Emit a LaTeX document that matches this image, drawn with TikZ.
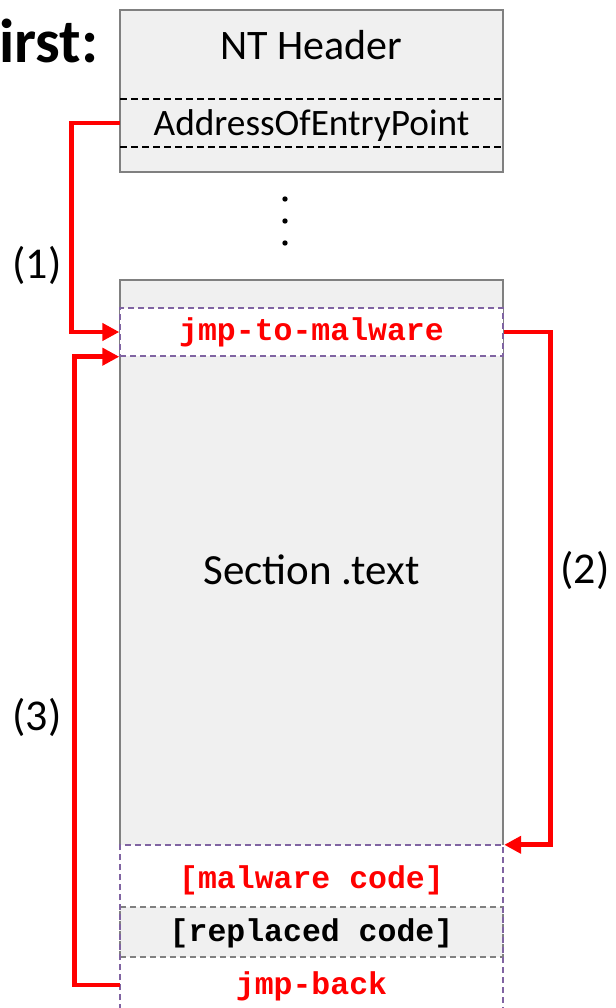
\documentclass[tikz,border=0pt]{standalone}
\usepackage{fontspec}
\setmainfont{Carlito}
\newfontfamily\codefont{Liberation Mono}
\usetikzlibrary{arrows.meta}
\definecolor{boxfill}{HTML}{F0F0F0}
\definecolor{boxline}{HTML}{808080}
\definecolor{purpleline}{HTML}{8064A2}
\definecolor{hotred}{HTML}{FF0000}
\tikzset{
  region/.style={rectangle, inner sep=0pt, minimum width=383pt, anchor=center},
  codetxt/.style={font=\codefont\bfseries\fontsize{31.5}{34}\selectfont},
  purpledash/.style={draw=purpleline, line width=1.4pt, dash pattern=on 6pt off 4pt},
  jumpline/.style={draw=hotred, line width=4.8pt, -{Triangle[length=17pt,width=17pt]}},
  steplabel/.style={font=\fontsize{44}{48}\selectfont},
}
\begin{document}
\begin{tikzpicture}[x=1pt,y=-1pt]
\useasboundingbox (0,0) rectangle (615,1008);
\fill[white] (0,0) rectangle (615,1008);

% heading fragment
\node[anchor=base west, inner sep=0pt, font=\bfseries\fontsize{62}{66}\selectfont] (head) at (-1,63) {irst:};

% NT header block
\node[region, minimum height=162pt, fill=boxfill, draw=boxline, line width=1.5pt] (nt) at (311.5,91) {};
\node[anchor=base, inner sep=0pt, font=\fontsize{42}{46}\selectfont] (nttxt) at (311.5,60) {NT Header};
\draw[line width=1.4pt, dash pattern=on 7pt off 4pt] (120,99) -- (503,99);
\draw[line width=1.4pt, dash pattern=on 7pt off 4pt] (120,147) -- (503,147);
\node[region, minimum height=48pt] (aoep) at (311.5,123) {};
\node[anchor=base, inner sep=0pt, font=\fontsize{37.3}{40}\selectfont] (aoeptxt) at (311.5,136) {AddressOfEntryPoint};

% vertical ellipsis
\fill (285,199) circle (2.7);
\fill (285,221) circle (2.7);
\fill (285,243) circle (2.7);

% section .text
\fill[boxfill] (120,280) rectangle (503,845);
\draw[boxline, line width=1.5pt] (120,845) -- (120,280) -- (503,280) -- (503,845);
\node[region, minimum height=48pt, fill=white, purpledash] (jmp) at (311.5,332) {};
\node[anchor=base, inner sep=0pt, codetxt, text=hotred] (jmptxt) at (311.5,340) {jmp-to-malware};
\node[inner sep=0pt, font=\fontsize{43}{47}\selectfont] (sect) at (311.5,570) {Section .text};

% appended code
\node[region, minimum height=62pt] (mal) at (311.5,876) {};
\node[anchor=base, inner sep=0pt, codetxt, text=hotred] (maltxt) at (311.5,888) {[malware code]};
\node[region, minimum height=50pt, fill=boxfill, draw=boxline, line width=1.4pt, dash pattern=on 6pt off 4pt] (rep) at (311.5,932) {};
\node[anchor=base, inner sep=0pt, codetxt, text=black] (reptxt) at (311.5,941) {[replaced code]};
\node[region, minimum height=56pt] (back) at (311.5,985) {};
\node[anchor=base, inner sep=0pt, codetxt, text=hotred] (backtxt) at (311.5,994) {jmp-back};
\draw[purpledash] (120,1010) -- (120,845) -- (503,845) -- (503,1010);

% control flow
\draw[jumpline] (aoep.west) -- ++(-48,0) |- (jmp.west);
\draw[jumpline] (jmp.east) -- ++(47,0) |- ([xshift=1pt]mal.north east);
\draw[jumpline] (back.west) -- ++(-45,0) |- (jmp.south west);

\node[steplabel] (l1) at (37,265) {(1)};
\node[steplabel] (l2) at (585,570) {(2)};
\node[steplabel] (l3) at (37,717) {(3)};
\end{tikzpicture}
\end{document}
